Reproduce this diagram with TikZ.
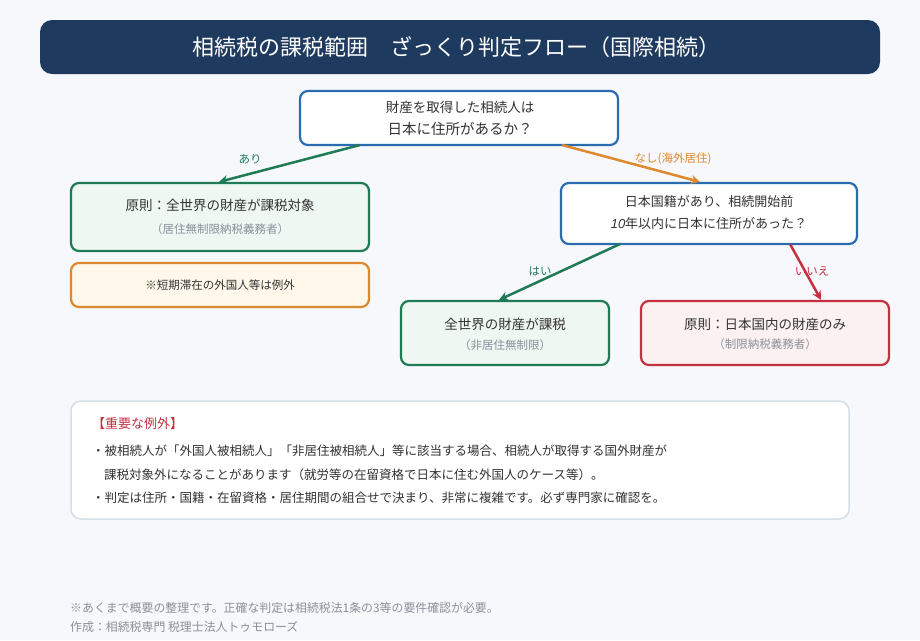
\documentclass[tikz,border=0pt]{standalone}
\usepackage{fontspec}
\setmainfont{Noto Sans CJK JP}
\newfontfamily\latinit{Liberation Sans}
\usetikzlibrary{arrows.meta}
\definecolor{bgc}{HTML}{F6F8FB}
\definecolor{navy}{HTML}{1F3A5F}
\definecolor{qblue}{HTML}{2B6CB0}
\definecolor{gline}{HTML}{1E7B55}
\definecolor{gfill}{HTML}{EEF7F2}
\definecolor{oline}{HTML}{DD8A2E}
\definecolor{ofill}{HTML}{FFF8EB}
\definecolor{rline}{HTML}{C53040}
\definecolor{rfill}{HTML}{FCF1F1}
\definecolor{txt}{HTML}{333333}
\definecolor{subtxt}{HTML}{8A9099}
\definecolor{nline}{HTML}{D6DEE8}
\tikzset{
  box/.style={draw, line width=2.2pt, rounded corners=8pt, inner sep=0pt},
  qbox/.style={box, draw=qblue, fill=white},
  gbox/.style={box, draw=gline, fill=gfill},
  obox/.style={box, draw=oline, fill=ofill},
  rbox/.style={box, draw=rline, fill=rfill},
  maintxt/.style={text=txt, inner sep=0pt, font=\fontsize{13.5}{16}\selectfont},
  subt/.style={text=subtxt, inner sep=0pt, font=\fontsize{11.5}{13}\selectfont},
  lbl/.style={inner sep=0pt, font=\fontsize{11.5}{13}\selectfont},
  conn/.style={line width=2.5pt, -{Stealth[length=9pt,width=9pt]}},
  notetxt/.style={text=txt, inner sep=0pt, anchor=west, font=\fontsize{12.5}{15}\selectfont},
  foot/.style={text=subtxt, inner sep=0pt, anchor=west, font=\fontsize{11.9}{14}\selectfont},
}
\begin{document}
\begin{tikzpicture}[x=1pt,y=-1pt]
\useasboundingbox (0,0) rectangle (920,640);
\fill[bgc] (0,0) rectangle (920,640);
% title
\node[fill=navy, rounded corners=12pt, minimum width=840pt, minimum height=54pt, inner sep=0pt] (title) at (460,47) {};
\node[text=white, inner sep=0pt, font=\fontsize{22}{26}\selectfont] (titletxt) at (456,47) {相続税の課税範囲　ざっくり判定フロー（国際相続）};
% top question
\node[qbox, minimum width=318pt, minimum height=54pt] (q1) at (459,118) {};
\node[maintxt, font=\fontsize{13.5}{16}\selectfont] (q1a) at (460,107) {財産を取得した相続人は};
\node[maintxt, font=\fontsize{14.5}{17}\selectfont] (q1b) at (460,129) {日本に住所があるか？};
% left result
\node[gbox, minimum width=298pt, minimum height=68pt] (r1) at (220,217) {};
\node[maintxt] (r1a) at (220,205) {原則：全世界の財産が課税対象};
\node[subt] (r1b) at (220,229) {（居住無制限納税義務者）};
% orange note
\node[obox, minimum width=298pt, minimum height=44pt] (o1) at (220,285) {};
\node[maintxt, font=\fontsize{11.5}{14}\selectfont] (o1a) at (220,285) {※短期滞在の外国人等は例外};
% second question
\node[qbox, minimum width=296pt, minimum height=61pt] (q2) at (709,213.5) {};
\node[maintxt, font=\fontsize{13}{16}\selectfont] (q2a) at (709,202) {日本国籍があり、相続開始前};
\node[maintxt, font=\fontsize{13}{16}\selectfont] (q2b) at (709,224) {{\latinit\itshape 10}年以内に日本に住所があった？};
% green result 2
\node[gbox, minimum width=208pt, minimum height=64pt] (r2) at (505,333) {};
\node[maintxt] (r2a) at (505,324) {全世界の財産が課税};
\node[subt] (r2b) at (505,345) {（非居住無制限）};
% red result
\node[rbox, minimum width=248pt, minimum height=64pt] (r3) at (765,333) {};
\node[maintxt] (r3a) at (765,324) {原則：日本国内の財産のみ};
\node[subt] (r3b) at (765,344) {（制限納税義務者）};
% connectors
\coordinate (q1l) at (360,145);
\coordinate (q1r) at (562,145);
\coordinate (q2l) at (620,244);
\coordinate (q2r) at (790,244);
\draw[conn, gline] (q1l) -- (r1.north -| 219,0);
\draw[conn, oline] (q1r) -- (q2.north -| 700,0);
\draw[conn, gline] (q2l) -- (r2.north -| 499,0);
\draw[conn, rline] (q2r) -- (r3.north -| 821,0);
\node[lbl, text=gline] (l1) at (250,159) {あり};
\node[lbl, text=oline] (l2) at (673,159) {なし(海外居住)};
\node[lbl, text=gline] (l3) at (540,271) {はい};
\node[lbl, text=rline] (l4) at (812,271) {いいえ};
% note box
\node[draw=nline, line width=1.5pt, fill=white, rounded corners=10pt, minimum width=778pt, minimum height=118pt, inner sep=0pt] (note) at (460,460) {};
\node[notetxt, text=rline, font=\fontsize{13}{15}\selectfont] (nh) at (92,424) {【重要な例外】};
\node[notetxt] (n1) at (92,451) {・被相続人が「外国人被相続人」「非居住被相続人」等に該当する場合、相続人が取得する国外財産が};
\node[notetxt] (n2) at (104,475) {課税対象外になることがあります（就労等の在留資格で日本に住む外国人のケース等）。};
\node[notetxt] (n3) at (92,498) {・判定は住所・国籍・在留資格・居住期間の組合せで決まり、非常に複雑です。必ず専門家に確認を。};
% footer
\node[foot] (f1) at (70,608) {※あくまで概要の整理です。正確な判定は相続税法1条の3等の要件確認が必要。};
\node[foot] (f2) at (70,627) {作成：相続税専門 税理士法人トゥモローズ};
\end{tikzpicture}
\end{document}
